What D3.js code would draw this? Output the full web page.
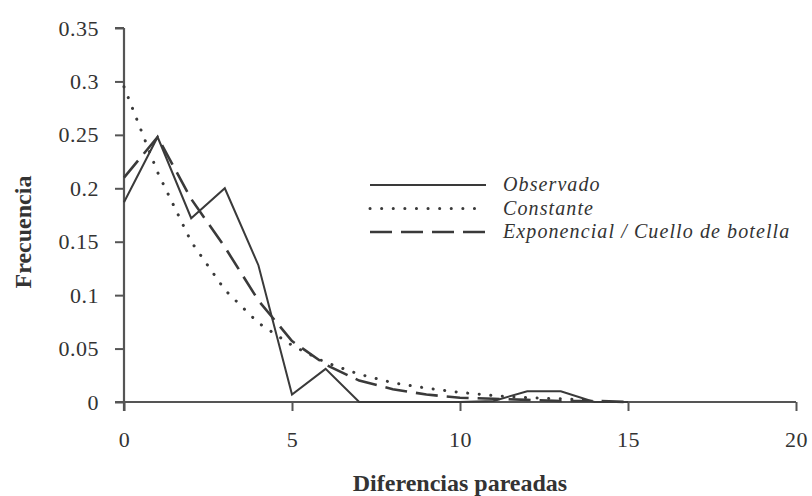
<!DOCTYPE html>
<html lang="es">
<head>
  <meta charset="utf-8">
  <title>Diferencias pareadas</title>
  <script src="https://cdn.jsdelivr.net/npm/d3@7"></script>
  <style>
    body { margin: 0; background: #fff; }
    text { font-family: "Liberation Serif", "Times New Roman", serif; fill: #333; }
  </style>
</head>
<body>
  <script>
    // Datos
    const diferencias = d3.range(0, 16);
    const observado = [0.187, 0.248, 0.172, 0.2, 0.128, 0.007, 0.031, 0, 0, 0, 0, 0.001, 0.01, 0.01, 0, 0];
    const constante = [0.295, 0.215, 0.15, 0.105, 0.074, 0.053, 0.037, 0.026, 0.018, 0.013, 0.009, 0.006, 0.004, 0.003, 0.002];
    const exponencial = [0.21, 0.248, 0.19, 0.145, 0.095, 0.057, 0.035, 0.02, 0.012, 0.007, 0.004, 0.003, 0.002, 0.001, 0.001, 0];
    const yTicks = [0, 0.05, 0.1, 0.15, 0.2, 0.25, 0.3, 0.35];
    const xTicks = [0, 5, 10, 15, 20];
    const leyenda = ["Observado", "Constante", "Exponencial / Cuello de botella"];

    const w = 812, h = 496;
    const x0 = 124, x1 = 796, y0 = 402, y1 = 28;

    const xScale = d3.scaleLinear().domain([0, 20]).range([x0, x1]);
    const yScale = d3.scaleLinear().domain([0, 0.35]).range([y0, y1]);

    const svg = d3.select("body").append("svg")
      .attr("width", w)
      .attr("height", h);

    // estilos de linea
    const estilos = [
      { dash: null, cap: "butt", width: 2 },
      { dash: "0.1 11.5", cap: "round", width: 3 },
      { dash: "22 9", cap: "butt", width: 2.6 }
    ];

    // ejes
    const yAxis = d3.axisLeft(yScale)
      .tickValues(yTicks)
      .tickSize(9)
      .tickPadding(16)
      .tickFormat(d => d === 0 ? "0" : d3.format("")(+d.toFixed(2)));
    const gy = svg.append("g")
      .attr("transform", `translate(${x0},0)`)
      .call(yAxis);

    const xAxis = d3.axisBottom(xScale)
      .tickValues(xTicks)
      .tickSize(9)
      .tickPadding(20);
    const gx = svg.append("g")
      .attr("transform", `translate(0,${y0})`)
      .call(xAxis);

    [gx, gy].forEach(g => {
      g.select(".domain").attr("stroke", "#555").attr("stroke-width", 2.2);
      g.selectAll(".tick line").attr("stroke", "#555").attr("stroke-width", 2);
      g.selectAll(".tick text")
        .attr("font-family", "Liberation Serif, serif")
        .attr("font-size", 22)
        .attr("letter-spacing", 0.5)
        .attr("fill", "#333");
    });
    gy.select(".domain").attr("d", `M0,${y1}H-9M0,${y1}V${y0 + 9}`);
    gx.select(".domain").attr("d", `M${x0 - 9},0H${x1}`);

    // lineas
    const line = d3.line()
      .x((d, i) => xScale(diferencias[i]))
      .y(d => yScale(d));

    [observado, constante, exponencial].forEach((serie, k) => {
      svg.append("path")
        .datum(serie)
        .attr("fill", "none")
        .attr("stroke", "#3a3a3a")
        .attr("stroke-width", estilos[k].width)
        .attr("stroke-linecap", estilos[k].cap)
        .attr("stroke-linejoin", "miter")
        .attr("stroke-dasharray", estilos[k].dash)
        .attr("d", line);
    });

    // leyenda
    const leg = svg.append("g").attr("transform", "translate(370,185)");
    leyenda.forEach((t, k) => {
      const yy = k * 23.5;
      leg.append("line")
        .attr("x1", 0).attr("x2", 116)
        .attr("y1", yy).attr("y2", yy)
        .attr("stroke", "#3a3a3a")
        .attr("stroke-width", estilos[k].width)
        .attr("stroke-linecap", estilos[k].cap)
        .attr("stroke-dasharray", estilos[k].dash);
      leg.append("text")
        .attr("x", 133).attr("y", yy + 6)
        .attr("font-style", "italic")
        .attr("font-size", 20)
        .attr("letter-spacing", 1.1)
        .text(t);
    });

    // titulos
    svg.append("text")
      .attr("x", (x0 + x1) / 2).attr("y", 491)
      .attr("text-anchor", "middle")
      .attr("font-weight", "bold")
      .attr("font-size", 24)
      .text("Diferencias pareadas");

    svg.append("text")
      .attr("transform", "translate(31,232) rotate(-90)")
      .attr("text-anchor", "middle")
      .attr("font-weight", "bold")
      .attr("font-size", 24)
      .text("Frecuencia");
  </script>
</body>
</html>
